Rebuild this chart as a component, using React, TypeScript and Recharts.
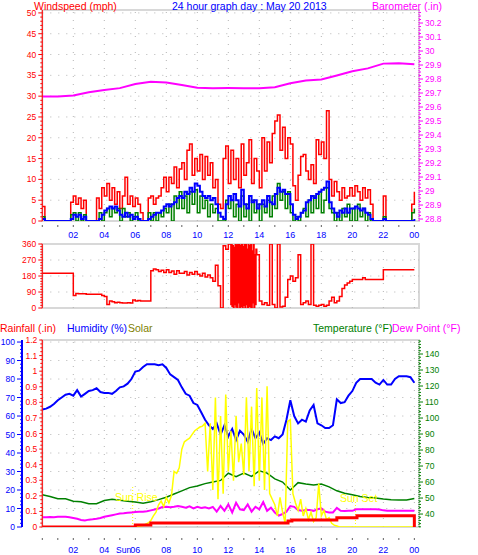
import React from 'react';
import { ComposedChart, Line, XAxis, YAxis, ReferenceLine, ReferenceArea } from 'recharts';

const FONT = '"Liberation Sans", Arial, sans-serif';
const RED = '#ff0000';
const BLUE = '#0000ff';
const MAGENTA = '#ff00ff';
const GREEN = '#008000';
const YELLOW = '#ffff00';
const OLIVE = '#808000';
const FRAME = '#d8d8d8';
const GRID = '#b4b4b4';

// x axis runs in hours of the day, a little past midnight on the right
const X_MAX = 24.3;
const hourTicks = [0, 1, 2, 3, 4, 5, 6, 7, 8, 9, 10, 11, 12, 13, 14, 15, 16, 17, 18, 19, 20, 21, 22, 23, 24];
const labelledHours = [2, 4, 6, 8, 10, 12, 14, 16, 18, 20, 22, 24];
const gridHours = [2, 4, 6, 8, 10, 12, 14, 16, 18, 20, 22, 24];

// wind, 10 minute samples (mph)
const gustMph = [
  3.5, 0, 0, 0, 0, 0,
  0, 0, 0, 0, 0, 4.5,
  6, 4, 5.5, 3, 5, 0,
  0, 0, 0, 5.5, 3, 8,
  6, 9, 5, 8, 4, 7,
  3, 6, 10.5, 4, 6, 3.5,
  5.5, 4, 2, 0, 0, 5.5,
  6, 4, 5.5, 6, 8, 10.5,
  7, 10.5, 9, 13, 8, 12.5,
  14, 10, 17, 18.5, 11, 15,
  12, 16, 10, 15.5, 11, 14,
  8, 10, 4, 3, 15, 18,
  9, 17, 10, 15, 8, 18.5,
  11, 14, 19.5, 9, 15, 12,
  8, 20, 12, 19, 14, 21,
  24, 25.5, 17, 22.5, 15, 20,
  18.5, 8.5, 5, 11, 15.5, 16,
  12, 10, 13.5, 9, 19.5, 16,
  19, 15, 26.5, 10, 6, 9.5,
  7, 5, 8, 5.5, 6, 8,
  6, 8.5, 7, 5, 8, 5.5,
  7.5, 4, 0, 0, 0, 0,
  6, 0, 0, 0, 0, 0,
  0, 0, 0, 0, 0, 4,
  7,
];
const avgMph = [
  0.5, 0, 0, 0, 0, 0,
  0, 0, 0, 0, 0, 0.5,
  1.5, 1, 1.5, 0.5, 1, 0,
  0, 0, 0, 0, 0.5, 1.5,
  2.5, 3, 3.5, 3, 3.5, 2.5,
  1.5, 1, 2, 1, 1.5, 0.5,
  1, 0.5, 0, 0, 0, 0.5,
  1, 1.5, 2, 2, 2.5, 3.5,
  4, 3.5, 4, 4.5, 5.5, 6,
  5.5, 7, 6.5, 8, 7, 9,
  8.5, 7, 6, 5.5, 6, 5,
  5.5, 4, 2, 1, 0.5, 4,
  6, 5, 6.5, 5, 3.5, 7.5,
  4, 3, 6, 4.5, 5, 3,
  4, 5, 3.5, 6, 4.5, 4,
  6.5, 8, 7, 7.5, 6.5, 6.5,
  4, 1.5, 0.5, 1, 2, 2.5,
  4.5, 5, 6, 5.5, 6.5, 7,
  7.5, 8, 9.5, 4.5, 3, 2,
  1, 2.5, 2, 3, 2, 3,
  3, 3.5, 3, 2.5, 3, 2,
  1.5, 0.5, 0, 0, 0, 0,
  0.5, 0, 0, 0, 0, 0,
  0, 0, 0, 0, 0, 0,
  0.5,
];
const windMph = [
  1, 0, 0, 0, 0, 0,
  0, 0, 0, 0, 0, 1.5,
  2, 0, 2, 0, 1.5, 0,
  0, 0, 0, 0, 2, 0,
  2, 3, 1, 3, 2, 3,
  0, 3, 1, 2, 0, 1,
  2, 0, 0, 0, 0, 2,
  0, 2, 0, 2, 1, 3,
  2, 4, 0, 6, 3, 7,
  3, 6, 2, 7, 4, 7.5,
  2, 6, 3, 5, 1, 4,
  2, 3, 0, 0, 0, 5,
  3, 5, 1, 4, 0, 6,
  1, 4, 0, 5, 2, 4,
  0, 4, 2, 5, 1, 6,
  3, 9, 5, 7, 3, 7,
  2, 0, 1, 0, 2, 3,
  1, 5, 2, 6, 3, 7,
  2, 5, 8, 3, 2, 0,
  2, 0, 3, 1, 4, 0,
  3, 0, 4, 1, 3, 0,
  2, 0, 0, 0, 0, 0,
  1, 0, 0, 0, 0, 0,
  0, 0, 0, 0, 0, 2,
  3,
];

// barometer, hourly (inHg)
const baroIn = [
  29.675, 29.675, 29.683, 29.705, 29.722, 29.735, 29.765, 29.78, 29.775, 29.757,
  29.737, 29.735, 29.736, 29.735, 29.735, 29.742, 29.77, 29.79, 29.797, 29.825,
  29.855, 29.876, 29.91, 29.912, 29.905,
];

// wind direction, 10 minute samples (degrees)
const windDirDeg = [
  195, 195, 195, 195, 195, 195,
  195, 195, 195, 195, 195, 195,
  70, 82, 80, 80, 80, 78,
  78, 78, 78, 78, 78, 70,
  65, 20, 40, 35, 30, 32,
  30, 28, 28, 30, 28, 45,
  40, 42, 40, 40, 40, 40,
  210, 220, 215, 205, 212, 200,
  215, 200, 208, 190, 210, 196,
  195, 205, 185, 200, 190, 205,
  190, 180, 195, 175, 185, 170,
  150, 240, 125, 0, 350, 330,
  360, 20, 350, 0, 360, 10,
  360, 0, 330, 20, 360, 300,
  40, 20, 30, 15, 360, 20,
  0, 360, 5, 10, 60, 160,
  180, 150, 170, 300, 20, 30,
  40, 20, 360, 15, 10, 15,
  20, 10, 15, 40, 60, 30,
  40, 65, 110, 130, 140, 150,
  160, 160, 160, 160, 170, 160,
  160, 160, 160, 160, 160, 160,
  215, 215, 215, 215, 215, 215,
  215, 215, 215, 215, 215, 215,
  215,
];
// finer 2.5 minute samples while the vane swung round north, 12:10 to 13:50
const swingStartHour = 12.2;
const swingDeg = [
  360, 10, 350, 0, 340, 20, 360, 5, 355, 0,
  360, 30, 360, 0, 350, 10, 360, 0, 345, 15,
  360, 0, 360, 20, 330, 0, 360, 10, 350, 5,
  360, 0, 320, 30, 360, 0, 300, 20, 330,
];
const compassDeg = [0, 90, 180, 270, 360];
const compassNames = ['N', 'E', 'S', 'W', 'N'];

// humidity, 15 minute samples (%)
const humidityPct = [
  63.5, 64, 65, 66.5,
  68.5, 70, 71.5, 72,
  71, 74, 70.5, 72,
  73.5, 74, 75, 73,
  72.5, 72.5, 72, 73.5,
  75.5, 76, 77.5, 80,
  84, 84.5, 86.5, 88,
  88, 88, 87.5, 88,
  86, 82.5, 81, 79.5,
  75.5, 72, 71, 67,
  66, 62, 58, 55,
  53, 56, 50, 55,
  49, 53, 47, 52,
  50, 46, 53, 48,
  51, 45, 48, 47,
  49, 48, 50, 58,
  68.5, 60, 56, 58,
  57, 63, 66, 56,
  55, 53.5, 53.5, 55,
  69, 67, 67.5, 71,
  73.5, 78, 80, 80,
  80, 80, 78, 77,
  79.5, 77, 77, 80,
  81.5, 81.5, 81.5, 81,
  78,
];

// temperature, 30 minute samples (F)
const tempF = [
  52, 51, 49.5, 49.5, 48, 47.7, 46.5, 46.5, 48.5, 49.2,
  48.6, 48, 47.5, 46.8, 47.7, 49, 50.5, 52.5, 54.5, 56.5,
  57.5, 59, 60, 61, 65.5, 63.4, 65.6, 63.5, 67, 65.6,
  62, 60, 55, 59.6, 58.8, 58.2, 58.8, 57, 54.5, 53,
  52, 51, 50.3, 50, 49.4, 49, 48.8, 48.8, 49.7,
];

// dew point, 15 minute samples (F)
const dewPointF = [
  38, 38, 38.2, 38,
  38.3, 38.3, 38.3, 38,
  37.5, 37, 36.3, 36,
  36.5, 36.7, 37, 37.5,
  38.3, 38.8, 39.3, 39.8,
  40.3, 40.5, 40.8, 41,
  41.2, 41.4, 41.5, 41.8,
  42.3, 42.8, 43.5, 44.4,
  44.5, 44.3, 44.5, 45,
  44.5, 44, 44.8, 43.5,
  44.5, 43.8, 44.2, 43.5,
  44.5, 41.5, 45, 42,
  46, 41, 47, 43,
  42.5, 46, 41.5, 44.5,
  43, 47.5, 42, 44,
  41, 39, 40, 41.5,
  45, 44.5, 42.5, 42,
  42.5, 42.5, 42, 43,
  43.5, 41.5, 41, 41,
  43.8, 42, 41.9, 42,
  42, 43, 43, 43,
  43, 43, 43, 42.8,
  42.3, 42.1, 42.1, 42.1,
  42.1, 42.1, 42, 42,
  42,
];

// solar radiation, 10 minute samples (W/m2)
const solarWm2 = [
  0, 0, 0, 0, 0, 0,
  0, 0, 0, 0, 0, 0,
  0, 0, 0, 0, 0, 0,
  0, 0, 0, 0, 0, 0,
  0, 0, 0, 0, 0, 0,
  0, 0, 0, 0, 0, 2,
  3, 4, 5, 8, 15, 22,
  35, 60, 80, 120, 140, 110,
  160, 130, 170, 300, 290, 320,
  420, 460, 470, 480, 500, 520,
  530, 540, 545, 560, 300, 560,
  200, 700, 150, 600, 180, 716,
  300, 520, 250, 600, 350, 450,
  280, 700, 300, 650, 220, 750,
  250, 700, 200, 760, 180, 150,
  120, 60, 160, 80, 20, 570,
  580, 180, 130, 90, 150, 60,
  100, 40, 80, 30, 50, 235,
  60, 90, 40, 50, 20, 10,
  5, 0, 0, 0, 0, 0,
  0, 0, 0, 0, 0, 0,
  0, 0, 0, 0, 0, 0,
  0, 0, 0, 0, 0, 0,
  0, 0, 0, 0, 0, 0,
  0,
];

// rainfall total, [hour, inches] at each step change
const rainSteps: [number, number][] = [
  [0, 0], [6, 0.013], [7, 0.025], [15.85, 0.038], [16.1, 0.045],
  [19, 0.06], [20.3, 0.072], [23.98, 0.072], [24, 0],
];

const sunRiseHour = 5.83;
const sunSetHour = 20.2;

const perHour = (vals: number[], n: number) => vals.map((v, i) => ({ h: i / n, v }));
const range = (from: number, to: number, step: number) => {
  const out: number[] = [];
  for (let v = from; v <= to + 1e-9; v += step) out.push(Math.round(v * 1000) / 1000);
  return out;
};
const onStep = (v: number, step: number) => Math.abs(v / step - Math.round(v / step)) < 1e-6;
const shortNum = (v: number) => String(Math.round(v * 10) / 10);

const gustData = perHour(gustMph, 6);
const avgData = perHour(avgMph, 6);
const windData = perHour(windMph, 6);
const baroData = perHour(baroIn, 1);
const swingData = swingDeg.map((v, i) => ({ h: swingStartHour + i / 24, v }));
const swingEnd = swingData[swingData.length - 1].h;
const dirData = [
  ...perHour(windDirDeg, 6).filter((d) => d.h < swingStartHour - 1e-6),
  ...swingData,
  ...perHour(windDirDeg, 6).filter((d) => d.h > swingEnd + 1e-6),
];
const humData = perHour(humidityPct, 4);
const tempData = perHour(tempF, 2);
const dewData = perHour(dewPointF, 4);
const solarData = perHour(solarWm2, 6);
const rainData = rainSteps.map(([h, v]) => ({ h, v }));

const hourLabel = (h: number) =>
  labelledHours.includes(h) ? (h === 24 ? '00' : String(h).padStart(2, '0')) : '';

const makeHourTick = (tickTop: number, labelY: number) => (p: any) => {
  const h = p.payload.value;
  const label = hourLabel(h);
  return (
    <g>
      <line x1={p.x} x2={p.x} y1={p.y + tickTop} y2={p.y + tickTop + 2} stroke="#606060" />
      {label && (
        <text x={p.x} y={p.y + labelY} textAnchor="middle" fill={BLUE} fontSize={9} fontFamily={FONT}>
          {label}
        </text>
      )}
    </g>
  );
};

type YTickOpts = {
  side: 'left' | 'right';
  color: string;
  major: (v: number) => boolean;
  format: (v: number) => string;
  majorLen?: number;
  minorLen?: number;
  fontSize?: number;
};

const makeYTick = (o: YTickOpts) => (p: any) => {
  const v = p.payload.value;
  const isMajor = o.major(v);
  const dir = o.side === 'left' ? -1 : 1;
  const majorLen = o.majorLen ?? 4;
  const len = isMajor ? majorLen : o.minorLen ?? 2;
  const fs = o.fontSize ?? 8.5;
  return (
    <g>
      {len > 0 && <line x1={p.x} x2={p.x + dir * len} y1={p.y} y2={p.y} stroke={o.color} />}
      {isMajor && (
        <text
          x={p.x + dir * (majorLen + 2)}
          y={p.y + fs * 0.36}
          textAnchor={o.side === 'left' ? 'end' : 'start'}
          fill={o.color}
          fontSize={fs}
          fontFamily={FONT}
        >
          {o.format(v)}
        </text>
      )}
    </g>
  );
};

const windTick = makeYTick({ side: 'left', color: RED, major: (v) => onStep(v, 5), format: String });
const baroTick = makeYTick({ side: 'right', color: MAGENTA, major: (v) => onStep(v, 0.1), format: shortNum });
const dirTick = makeYTick({ side: 'left', color: RED, major: (v) => onStep(v, 90), format: String });
const compassTick = (p: any) => (
  <text x={p.x + 21} y={p.y + 4} textAnchor="middle" fill={RED} fontSize={11.5} fontFamily={FONT}>
    {compassNames[compassDeg.indexOf(p.payload.value)]}
  </text>
);
const rainTick = makeYTick({ side: 'left', color: RED, major: (v) => onStep(v, 0.1), format: shortNum, majorLen: 3 });
const humTick = makeYTick({ side: 'left', color: BLUE, major: (v) => onStep(v, 10), format: String, majorLen: 5 });
const tempTick = makeYTick({ side: 'right', color: GREEN, major: (v) => onStep(v, 10), format: String });

const gridLine = { stroke: GRID, strokeDasharray: '1 7', strokeWidth: 1 };

export default function App() {
  return (
    <div style={{ position: 'absolute', left: 0, top: 0, width: 478, height: 555, background: '#fff', overflow: 'hidden' }}>
      {/* wind speed and barometer */}
      <div style={{ position: 'absolute', left: 0, top: 0 }}>
        <ComposedChart width={478} height={243} margin={{ top: 10, right: 0, bottom: 0, left: 0 }}>
          <XAxis
            type="number"
            dataKey="h"
            domain={[0, X_MAX]}
            ticks={hourTicks}
            interval={0}
            allowDataOverflow
            height={22}
            axisLine={false}
            tickLine={false}
            tickSize={0}
            tickMargin={0}
            tick={makeHourTick(4, 17)}
          />
          <YAxis
            yAxisId="wind"
            width={42.3}
            domain={[0, 50.7]}
            ticks={range(0, 50, 1)}
            interval={0}
            allowDataOverflow
            axisLine={{ stroke: RED }}
            tickLine={false}
            tickSize={0}
            tickMargin={0}
            tick={windTick}
          />
          <YAxis
            yAxisId="baro"
            orientation="right"
            width={59}
            domain={[28.786, 30.293]}
            ticks={range(28.8, 30.275, 0.025)}
            interval={0}
            allowDataOverflow
            axisLine={{ stroke: MAGENTA, strokeDasharray: '1 1' }}
            tickLine={false}
            tickSize={0}
            tickMargin={0}
            tick={baroTick}
          />
          <ReferenceArea yAxisId="wind" x1={0} x2={X_MAX} y1={0} y2={50.7} fill="none" stroke={FRAME} strokeWidth={2} />
          {range(5, 50, 5).map((w) => (
            <ReferenceLine key={'w' + w} yAxisId="wind" y={w} {...gridLine} />
          ))}
          {gridHours.map((h) => (
            <ReferenceLine key={'h' + h} yAxisId="wind" x={h} {...gridLine} />
          ))}
          <Line yAxisId="baro" data={baroData} dataKey="v" type="linear" stroke={MAGENTA} strokeWidth={2} dot={false} isAnimationActive={false} />
          <Line yAxisId="wind" data={gustData} dataKey="v" type="stepAfter" stroke={RED} strokeWidth={1.5} dot={false} isAnimationActive={false} />
          <Line yAxisId="wind" data={windData} dataKey="v" type="stepAfter" stroke={GREEN} strokeWidth={1.5} dot={false} isAnimationActive={false} />
          <Line yAxisId="wind" data={avgData} dataKey="v" type="stepAfter" stroke={BLUE} strokeWidth={2} dot={false} isAnimationActive={false} />
        </ComposedChart>
      </div>

      {/* wind direction */}
      <div style={{ position: 'absolute', left: 0, top: 238 }}>
        <ComposedChart width={478} height={76} margin={{ top: 6, right: 0, bottom: 6, left: 0 }}>
          <XAxis type="number" dataKey="h" domain={[0, X_MAX]} allowDataOverflow hide />
          <YAxis
            yAxisId="dir"
            width={42.3}
            domain={[0, 360]}
            ticks={range(0, 360, 15)}
            interval={0}
            allowDataOverflow
            axisLine={{ stroke: RED }}
            tickLine={false}
            tickSize={0}
            tickMargin={0}
            tick={dirTick}
          />
          <YAxis
            yAxisId="compass"
            orientation="right"
            width={59}
            domain={[0, 360]}
            ticks={compassDeg}
            interval={0}
            axisLine={false}
            tickLine={false}
            tickSize={0}
            tickMargin={0}
            tick={compassTick}
          />
          <ReferenceArea yAxisId="dir" x1={0} x2={X_MAX} y1={0} y2={360} fill="none" stroke={FRAME} strokeWidth={2} />
          {[90, 180, 270].map((d) => (
            <ReferenceLine key={'d' + d} yAxisId="dir" y={d} {...gridLine} />
          ))}
          {gridHours.map((h) => (
            <ReferenceLine key={'h' + h} yAxisId="dir" x={h} {...gridLine} />
          ))}
          <Line yAxisId="dir" data={dirData} dataKey="v" type="stepAfter" stroke={RED} strokeWidth={1.5} dot={false} isAnimationActive={false} />
        </ComposedChart>
      </div>

      {/* rain, humidity, solar, temperature, dew point */}
      <div style={{ position: 'absolute', left: 0, top: 330 }}>
        <ComposedChart width={478} height={225} margin={{ top: 10, right: 0, bottom: 0, left: 0 }}>
          <XAxis
            type="number"
            dataKey="h"
            domain={[0, X_MAX]}
            ticks={hourTicks}
            interval={0}
            allowDataOverflow
            height={28}
            axisLine={false}
            tickLine={false}
            tickSize={0}
            tickMargin={0}
            tick={makeHourTick(11, 25.5)}
          />
          {/* left axes stack by id: the rainfall scale sits next to the plot, humidity outside it */}
          <YAxis
            yAxisId="axisA"
            width={20.3}
            domain={[0, 1.2]}
            ticks={range(0, 1.2, 0.025)}
            interval={0}
            allowDataOverflow
            axisLine={{ stroke: RED }}
            tickLine={false}
            tickSize={0}
            tickMargin={0}
            tick={rainTick}
          />
          <YAxis
            yAxisId="axisB"
            width={22}
            domain={[0, 101.1]}
            ticks={range(0, 100, 2)}
            interval={0}
            allowDataOverflow
            axisLine={{ stroke: BLUE, strokeWidth: 2 }}
            tickLine={false}
            tickSize={0}
            tickMargin={0}
            tick={humTick}
          />
          <YAxis
            yAxisId="temp"
            orientation="right"
            width={59}
            domain={[31.9, 148.75]}
            ticks={range(32, 148, 2)}
            interval={0}
            allowDataOverflow
            axisLine={{ stroke: GREEN, strokeDasharray: '1 1' }}
            tickLine={false}
            tickSize={0}
            tickMargin={0}
            tick={tempTick}
          />
          <YAxis yAxisId="solar" hide domain={[0, 1010]} allowDataOverflow />
          <ReferenceArea yAxisId="axisB" x1={0} x2={X_MAX} y1={0} y2={101.1} fill="none" stroke={FRAME} strokeWidth={2} />
          {range(10, 100, 10).map((v) => (
            <ReferenceLine key={'g' + v} yAxisId="axisB" y={v} {...gridLine} />
          ))}
          {gridHours.map((h) => (
            <ReferenceLine key={'h' + h} yAxisId="axisB" x={h} {...gridLine} />
          ))}
          <ReferenceLine
            yAxisId="axisB"
            segment={[{ x: sunRiseHour, y: 0 }, { x: sunRiseHour, y: 22 }]}
            stroke={YELLOW}
            strokeDasharray="1 2"
          />
          <ReferenceLine
            yAxisId="axisB"
            segment={[{ x: sunSetHour, y: 0 }, { x: sunSetHour, y: 14 }]}
            stroke={YELLOW}
            strokeDasharray="1 2"
          />
          <Line yAxisId="axisB" data={humData} dataKey="v" type="linear" stroke={BLUE} strokeWidth={2} dot={false} isAnimationActive={false} />
          <Line yAxisId="temp" data={tempData} dataKey="v" type="linear" stroke={GREEN} strokeWidth={1.5} dot={false} isAnimationActive={false} />
          <Line yAxisId="temp" data={dewData} dataKey="v" type="linear" stroke={MAGENTA} strokeWidth={2} dot={false} isAnimationActive={false} />
          <Line yAxisId="solar" data={solarData} dataKey="v" type="linear" stroke={YELLOW} strokeWidth={1.5} dot={false} isAnimationActive={false} />
          <Line yAxisId="axisA" data={rainData} dataKey="v" type="stepAfter" stroke={RED} strokeWidth={3} dot={false} isAnimationActive={false} />
        </ComposedChart>
      </div>

      {/* panel titles and legend captions */}
      <svg width={478} height={555} style={{ position: 'absolute', left: 0, top: 0, pointerEvents: 'none' }} fontFamily={FONT} fontSize={10.5}>
        <text x={34} y={9.5} fill={RED}>Windspeed (mph)</text>
        <text x={172} y={9.5} fill={BLUE}>24 hour graph day : May 20 2013</text>
        <text x={372} y={9.5} fill={MAGENTA}>Barometer (.in)</text>
        <text x={0} y={331.5} fill={RED}>Rainfall (.in)</text>
        <text x={67} y={331.5} fill={BLUE}>Humidity (%)</text>
        <text x={128} y={331.5} fill={OLIVE}>Solar</text>
        <text x={313} y={331.5} fill={GREEN}>Temperature (°F)</text>
        <text x={392} y={331.5} fill={MAGENTA}>Dew Point (°F)</text>
        <text x={115} y={501} fill={YELLOW}>Sun Rise</text>
        <text x={340} y={501.5} fill={YELLOW}>Sun Set</text>
        <text x={116} y={553} fill={BLUE} fontSize={8.5}>Sun</text>
      </svg>
    </div>
  );
}
